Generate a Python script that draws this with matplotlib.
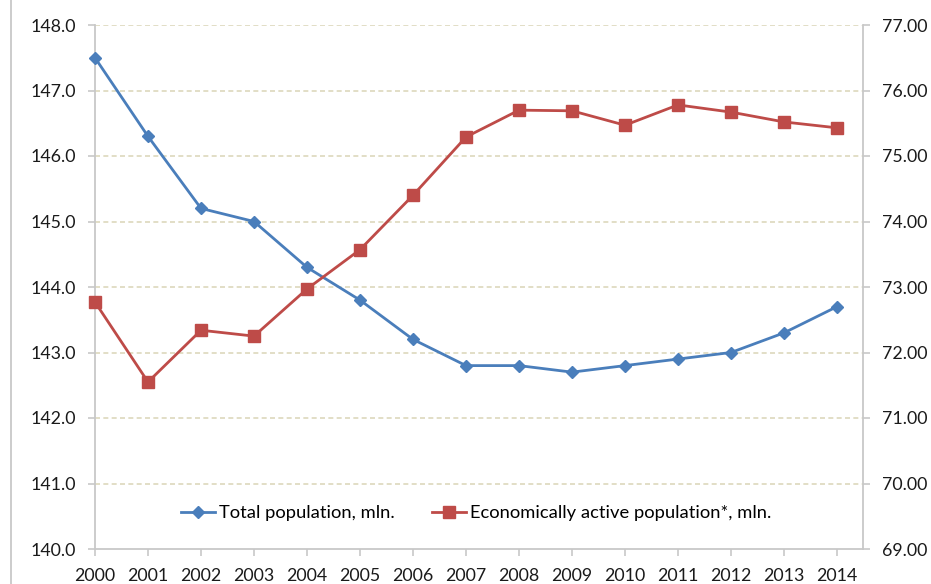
import matplotlib
matplotlib.use("Agg")
import matplotlib.pyplot as plt
from matplotlib.lines import Line2D

plt.rcParams['font.family'] = ['Lato', 'DejaVu Sans']

years = [2000, 2001, 2002, 2003, 2004, 2005, 2006, 2007,
         2008, 2009, 2010, 2011, 2012, 2013, 2014]
total_pop = [147.5, 146.3, 145.2, 145.0, 144.3, 143.8, 143.2, 142.8,
             142.8, 142.7, 142.8, 142.9, 143.0, 143.3, 143.7]
active_pop = [72.77, 71.55, 72.34, 72.25, 72.97, 73.57, 74.40, 75.29,
              75.70, 75.69, 75.47, 75.78, 75.67, 75.52, 75.43]
left_ticks = [140, 141, 142, 143, 144, 145, 146, 147, 148]
right_ticks = [69, 70, 71, 72, 73, 74, 75, 76, 77]
labels = ["Total population, mln.", "Economically active population*, mln."]

BLUE = "#4a7ebb"
RED = "#be4b48"
GRID = "#ddd8bc"
AXIS = "#c8c8c8"
FS = 12.8
LEG_FS = 13.2

fig = plt.figure(figsize=(9.31, 5.84), dpi=100)
ax = fig.add_axes([95 / 931, 35 / 584, (863 - 95) / 931, (549 - 25) / 584])
ax2 = ax.twinx()

ax.plot(years, total_pop, color=BLUE, lw=2.0, marker="D", ms=6.5,
        mec=BLUE, mfc=BLUE, zorder=3, clip_on=False)
ax2.plot(years, active_pop, color=RED, lw=2.0, marker="s", ms=8.5,
         mec=RED, mfc=RED, zorder=3, clip_on=False)

ax.set_xlim(2000, 2014 + 26 / 53)
ax.set_ylim(140, 148)
ax2.set_ylim(69, 77)
ax.set_xticks(years)
ax.set_xticklabels([str(y) for y in years])
ax.set_yticks(left_ticks)
ax.set_yticklabels([f"{v:.1f}" for v in left_ticks])
ax2.set_yticks(right_ticks)
ax2.set_yticklabels([f"{v:.2f}" for v in right_ticks])

for v in left_ticks[1:]:
    ax.axhline(v, color=GRID, lw=1.2, ls=(0, (3, 2)), zorder=1)

for a in (ax, ax2):
    for s in a.spines.values():
        s.set_visible(False)
ax.spines['left'].set_visible(True)
ax.spines['bottom'].set_visible(True)
ax2.spines['right'].set_visible(True)
for s in (ax.spines['left'], ax.spines['bottom'], ax2.spines['right']):
    s.set_color(AXIS)
    s.set_linewidth(1.3)

ax.tick_params(axis='x', length=5, color=AXIS, width=1.2, pad=9,
               labelsize=FS, labelcolor="#1a1a1a")
ax.tick_params(axis='y', length=5, color=AXIS, width=1.2, pad=9,
               labelsize=FS, labelcolor="#1a1a1a")
ax2.tick_params(axis='y', length=5, color=AXIS, width=1.2, pad=9,
                labelsize=FS, labelcolor="#1a1a1a")

# outer chart border on the left
fig.add_artist(Line2D([11 / 931, 11 / 931], [0, 1], color="#c8c8c8",
                      lw=1.3, transform=fig.transFigure))

handles = [
    Line2D([], [], color=BLUE, lw=2.0, marker="D", ms=6.5, mec=BLUE, mfc=BLUE),
    Line2D([], [], color=RED, lw=2.0, marker="s", ms=8.5, mec=RED, mfc=RED),
]
ax.legend(handles, labels, ncol=2, frameon=False, fontsize=LEG_FS,
          loc="center", bbox_to_anchor=(476 / 931, (584 - 513) / 584),
          bbox_transform=fig.transFigure, handlelength=1.9,
          handletextpad=0.2, columnspacing=2.0, numpoints=1)

fig.savefig("out.png", dpi=100)
